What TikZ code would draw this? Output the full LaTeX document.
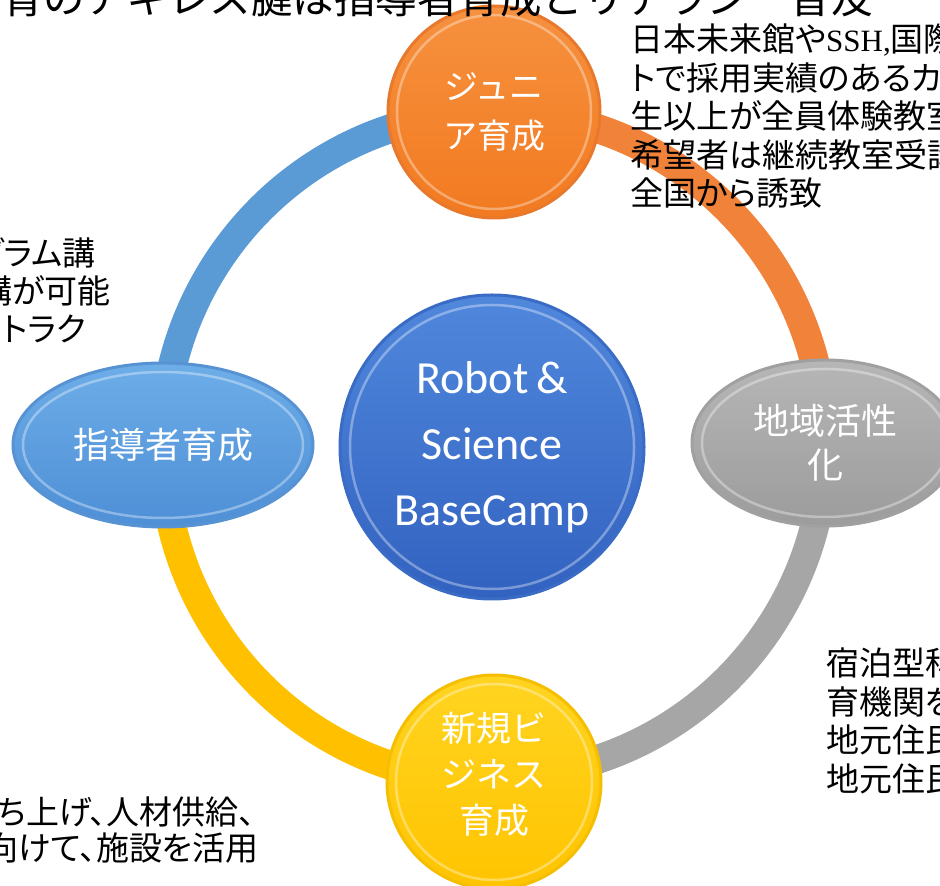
\documentclass[tikz,border=0pt]{standalone}
\usepackage{fontspec}
\setmainfont{Noto Sans CJK JP}
\newfontfamily\notef[RawFeature=+palt]{Noto Sans CJK JP}
\newfontfamily\latf{Carlito}
\newfontfamily\serf{Liberation Serif}
\usetikzlibrary{shapes.geometric,backgrounds}
\definecolor{ringBlue}{HTML}{5B9BD5}
\definecolor{ringOrange}{HTML}{F0823A}
\definecolor{ringGray}{HTML}{A6A6A6}
\definecolor{ringYellow}{HTML}{FFC000}
\definecolor{leadTop}{HTML}{6DADE8}
\definecolor{leadBot}{HTML}{4E8FD6}
\definecolor{leadRim}{HTML}{5793D2}
\definecolor{coreTop}{HTML}{5088DC}
\definecolor{coreBot}{HTML}{3262C0}
\definecolor{coreRim}{HTML}{3A6CC6}
\definecolor{jrTop}{HTML}{F6913F}
\definecolor{jrBot}{HTML}{F27A20}
\definecolor{jrRim}{HTML}{E8792C}
\definecolor{regTop}{HTML}{B6B6B6}
\definecolor{regBot}{HTML}{9C9C9C}
\definecolor{regRim}{HTML}{A0A0A0}
\definecolor{bizTop}{HTML}{FFD421}
\definecolor{bizBot}{HTML}{FFC400}
\definecolor{bizRim}{HTML}{F5BE00}
\begin{document}
\begin{tikzpicture}[x=1pt,y=1pt,
  ring/.style={line width=29pt},
  bubtxt/.style={text=white, align=center, inner sep=0pt, line width=3pt},
  note/.style={text=black, inner sep=0pt, font=\notef\fontsize{33}{38.5}\selectfont},
  hl/.style={white, opacity=0.35, line width=2.5pt}]
\useasboundingbox (0,0) rectangle (940,886);
\clip (0,0) rectangle (940,886);

% bubbles
\node[circle, minimum size=304pt, top color=coreTop, bottom color=coreBot, draw=coreRim, bubtxt,
      font=\latf\fontsize{46}{66}\selectfont] (core) at (492,439) {Robot\,\&\\Science\\BaseCamp};
\node[circle, minimum size=212pt, top color=jrTop, bottom color=jrBot, draw=jrRim, bubtxt,
      font=\fontsize{34}{49}\selectfont] (jr) at (494,774) {ジュニ\\ア育成};
\node[ellipse, minimum width=266pt, minimum height=166pt, top color=regTop, bottom color=regBot, draw=regRim, bubtxt,
      font=\fontsize{36}{44}\selectfont] (reg) at (825,443) {地域活性\\化};
\node[circle, minimum size=214pt, top color=bizTop, bottom color=bizBot, draw=bizRim, bubtxt] (biz) at (494,104) {};
\node[bubtxt, font=\fontsize{35}{46}\selectfont] (bizText) at ([yshift=8pt]biz.center) {新規ビ\\ジネス\\育成};
\node[ellipse, minimum width=300pt, minimum height=164pt, top color=leadTop, bottom color=leadBot, draw=leadRim, bubtxt,
      font=\fontsize{36}{44}\selectfont] (lead) at (163,441) {指導者育成};

% bevel highlights
\draw[hl] (core.center) circle[radius=142];
\draw[hl] (jr.center) circle[radius=97];
\draw[hl] (biz.center) circle[radius=98];
\draw[hl] (reg.center) ellipse[x radius=123, y radius=74];
\draw[hl] (lead.center) ellipse[x radius=140, y radius=73];

% ring connectors (behind the bubbles)
\begin{pgfonlayer}{background}
\fill[white] (0,0) rectangle (940,886);
\draw[ring, ringBlue]   (lead.center) arc[start angle=180, end angle=90,  x radius=331, y radius=333];
\draw[ring, ringOrange] (jr.center)   arc[start angle=90,  end angle=0,   x radius=331, y radius=333];
\draw[ring, ringGray]   (reg.center)  arc[start angle=0,   end angle=-90, x radius=331, y radius=333];
\draw[ring, ringYellow] (biz.center)  arc[start angle=270, end angle=180, x radius=331, y radius=333];
\end{pgfonlayer}

% title (clipped at the top edge)
\node[anchor=base east, inner sep=0pt, font=\fontsize{41.5}{50}\selectfont] (title) at (873,872)
  {育のアキレス腱は指導者育成とリテラシー普及};

% side notes
\node[note, anchor=north west, align=left] (noteJr) at (630,862)
  {日本未来館や{\serf\fontsize{31}{38.5}\selectfont SSH,}国際\\トで採用実績のあるカリ\\生以上が全員体験教室\\希望者は継続教室受講\\全国から誘致};
\node[note, anchor=east] (noteL1) at (96,633) {グラム講};
\node[note, anchor=east] (noteL2) at (111,595) {講が可能};
\node[note, anchor=east] (noteL3) at (86,557) {ストラク};
\node[note, anchor=north west, align=left] (noteReg) at (826,238)
  {宿泊型科\\育機関を\\地元住民\\地元住民};
\node[note, anchor=east] (noteB1) at (255,74) {ち上げ、人材供給、};
\node[note, anchor=east] (noteB2) at (259,38) {向けて、施設を活用};
\end{tikzpicture}
\end{document}
